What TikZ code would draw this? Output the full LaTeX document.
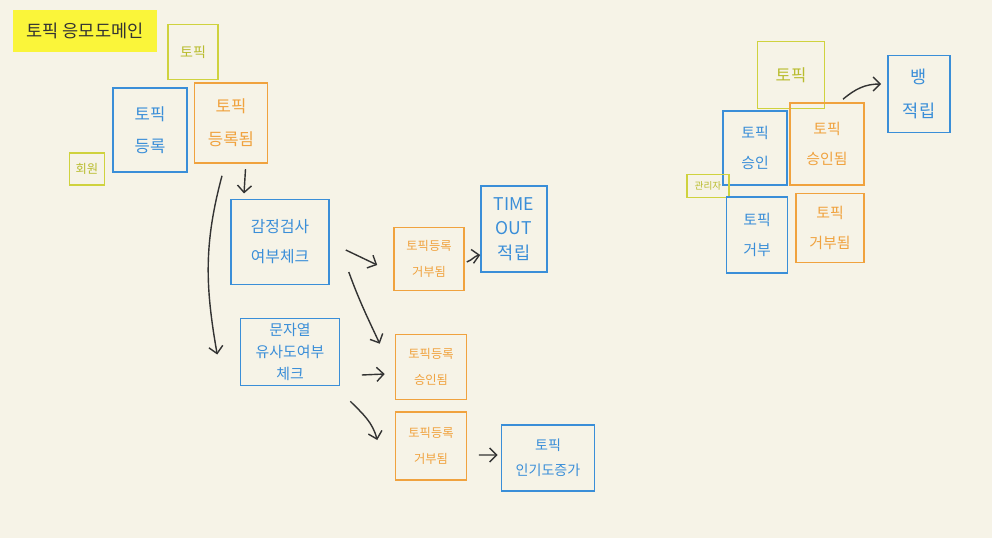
\documentclass[tikz,border=0pt]{standalone}
\usepackage{fontspec}
\setmainfont{Noto Sans CJK KR}
\usetikzlibrary{arrows.meta, positioning}

\definecolor{paper}{HTML}{F6F3E7}
\definecolor{pblue}{HTML}{3A8ED8}
\definecolor{porange}{HTML}{F0A23E}
\definecolor{pyellow}{HTML}{CFD23E}
\definecolor{ptext}{HTML}{B9BC2E}
\definecolor{hilite}{HTML}{FAF53A}
\definecolor{ink}{HTML}{333333}

\tikzset{
	sticky/.style={draw, line width=0.9pt, align=center, inner sep=1pt, font=\fontsize{9}{17}\selectfont},
	box/.style 2 args={minimum width=#1, minimum height=#2},
	cmd/.style={sticky, draw=pblue, text=pblue},
	evt/.style={sticky, draw=porange, text=porange},
	agg/.style={sticky, draw=pyellow, text=ptext},
	actor/.style={agg, font=\fontsize{7}{8}\selectfont},
	small/.style={font=\fontsize{7}{15}\selectfont},
	flow/.style={draw=ink, line width=0.8pt, -{Straight Barb[length=4pt,width=8pt]}},
}

\begin{document}
\begin{tikzpicture}[x=0.02cm, y=0.02cm]
	\fill[paper] (0,0) rectangle (992,-538);
	\useasboundingbox (0,0) rectangle (992,-538);

	% left: topic registration
	\node[fill=hilite, box={2.88cm}{0.84cm}, text=ink, font=\fontsize{10}{12}\selectfont] (title) at (85,-31) {토픽 응모도메인};
	\node[agg, box={1.0cm}{1.1cm}, font=\fontsize{8}{10}\selectfont] (aggTopic) at (193,-52) {토픽};
	\node[cmd, box={1.48cm}{1.68cm}, font=\fontsize{9.5}{18}\selectfont] (cmdReg) at (150,-130) {토픽\\등록};
	\node[evt, box={1.46cm}{1.6cm}, font=\fontsize{9.5}{19}\selectfont] (evtReg) at (231,-123) {토픽\\등록됨};
	\node[actor, box={0.7cm}{0.64cm}] (actMember) at (87,-169) {회원};

	\node[cmd, box={1.96cm}{1.7cm}] (cmdEmo) at (280,-242) {감정검사\\여부체크};
	\node[cmd, box={1.98cm}{1.34cm}, font=\fontsize{8.5}{12.5}\selectfont] (cmdSim) at (290,-352) {문자열\\유사도여부\\체크};

	\node[evt, small, box={1.4cm}{1.26cm}] (evtRej1) at (429,-259) {토픽등록\\거부됨};
	\node[cmd, box={1.32cm}{1.72cm}, font=\fontsize{10}{14}\selectfont] (cmdTimeout) at (514,-229) {TIME\\OUT\\적립};
	\node[evt, small, box={1.42cm}{1.3cm}] (evtOk) at (431,-367) {토픽등록\\승인됨};
	\node[evt, small, box={1.42cm}{1.36cm}] (evtRej2) at (431,-446) {토픽등록\\거부됨};
	\node[cmd, box={1.86cm}{1.32cm}, font=\fontsize{8}{14}\selectfont] (cmdPop) at (548,-458) {토픽\\인기도증가};

	% right: topic approval
	\node[agg, box={1.34cm}{1.34cm}, font=\fontsize{9.5}{12}\selectfont] (aggTopic2) at (791,-75) {토픽};
	\node[cmd, box={1.24cm}{1.54cm}, font=\fontsize{10}{19}\selectfont] (cmdBadge) at (919,-94) {뱅\\적립};
	\node[cmd, box={1.28cm}{1.48cm}, font=\fontsize{8.5}{17}\selectfont] (cmdApprove) at (755,-148) {토픽\\승인};
	\node[evt, box={1.48cm}{1.64cm}, font=\fontsize{8.5}{17}\selectfont] (evtApprove) at (827,-144) {토픽\\승인됨};
	\node[actor, box={0.84cm}{0.46cm}, font=\fontsize{5.5}{7}\selectfont] (actAdmin) at (708,-186) {관리자};
	\node[cmd, box={1.22cm}{1.52cm}, font=\fontsize{8.5}{17}\selectfont] (cmdReject) at (757,-235) {토픽\\거부};
	\node[evt, box={1.36cm}{1.38cm}, font=\fontsize{8.5}{17}\selectfont] (evtReject) at (830,-228) {토픽\\거부됨};

	% flows
	\draw[flow, shorten <=3pt, shorten >=3pt]	(evtReg.290) -- (cmdEmo.130);
	\draw[flow]	([xshift=-0.18cm,yshift=-0.24cm]evtReg.south) to[out=-105,in=100] ([xshift=-0.45cm,yshift=-0.05cm]cmdSim.west);
	\draw[flow]	([xshift=0.32cm,yshift=-0.16cm]cmdEmo.east) -- ([xshift=-0.32cm,yshift=-0.12cm]evtRej1.west);
	\draw[flow]	([xshift=0.38cm,yshift=-0.6cm]cmdEmo.east) to[out=-70,in=115] ([xshift=-0.3cm,yshift=-0.2cm]evtOk.north west);
	\draw[flow]	([xshift=0.43cm,yshift=-0.46cm]cmdSim.east) -- ([xshift=-0.2cm,yshift=-0.14cm]evtOk.west);
	\draw[flow]	([xshift=0.2cm,yshift=-0.3cm]cmdSim.south east) to[out=-45,in=105] ([xshift=-0.35cm,yshift=0.12cm]evtRej2.west);
	\draw[flow]	([xshift=0.04cm,yshift=-0.06cm]evtRej1.east) to[out=20,in=190] ([yshift=-0.52cm]cmdTimeout.west);
	\draw[flow]	([xshift=0.23cm,yshift=-0.18cm]evtRej2.east) -- ([xshift=-0.06cm,yshift=0.06cm]cmdPop.west);
	\draw[flow]	([xshift=0.32cm,yshift=0.06cm]evtApprove.north) to[out=40,in=180] ([xshift=-0.12cm,yshift=0.2cm]cmdBadge.west);
\end{tikzpicture}
\end{document}
